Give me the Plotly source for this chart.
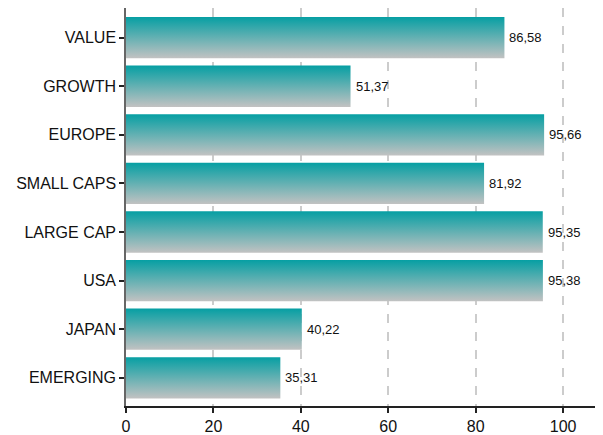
import plotly.graph_objects as go

categories = ["VALUE", "GROWTH", "EUROPE", "SMALL CAPS", "LARGE CAP", "USA", "JAPAN", "EMERGING"]
values = [86.58, 51.37, 95.66, 81.92, 95.35, 95.38, 40.22, 35.31]
x_ticks = [0, 20, 40, 60, 80, 100]

TOP = "#069fa3"
BOTTOM = "#c2c2c2"
half = 0.425

cats_bottom_up = categories[::-1]
vals_bottom_up = values[::-1]

fig = go.Figure()
for i, (c, v) in enumerate(zip(cats_bottom_up, vals_bottom_up)):
    fig.add_trace(go.Scatter(
        x=[0, v, v, 0, 0],
        y=[i - half, i - half, i + half, i + half, i - half],
        mode="lines", fill="toself",
        line=dict(width=0),
        fillgradient=dict(type="vertical", colorscale=[[0, BOTTOM], [1, TOP]]),
        hoverinfo="skip", showlegend=False,
    ))
    fig.add_annotation(
        x=v, y=i, text=f"{v:.2f}".replace(".", ","),
        showarrow=False, xanchor="left", xshift=3, yanchor="middle",
        font=dict(size=13, color="#111111"),
    )

fig.update_layout(
    width=603, height=435,
    margin=dict(l=126, r=8, t=8, b=29),
    plot_bgcolor="white", paper_bgcolor="white",
    font=dict(family="Liberation Sans, Arial, sans-serif", size=16, color="#111111"),
    xaxis=dict(
        range=[0, 107.3], tickvals=x_ticks, showgrid=True,
        gridcolor="#cccccc", griddash="dash", gridwidth=1.5,
        showline=True, linecolor="#222222", linewidth=1.5,
        ticks="outside", ticklen=5, tickcolor="#222222", tickwidth=1.5,
        zeroline=False, tickfont=dict(size=16), automargin=False,
    ),
    yaxis=dict(
        range=[-0.58, 7.61],
        tickvals=list(range(len(cats_bottom_up))), ticktext=cats_bottom_up,
        showgrid=False, zeroline=False,
        showline=True, linecolor="#666666", linewidth=1.5,
        ticks="outside", ticklen=5, tickcolor="#222222", tickwidth=1.5,
        tickfont=dict(size=16), automargin=False,
    ),
)

fig.write_html(
    "out.html",
    config={"displayModeBar": False},
    post_script="document.body.style.margin='0';document.body.style.overflow='hidden';",
)
